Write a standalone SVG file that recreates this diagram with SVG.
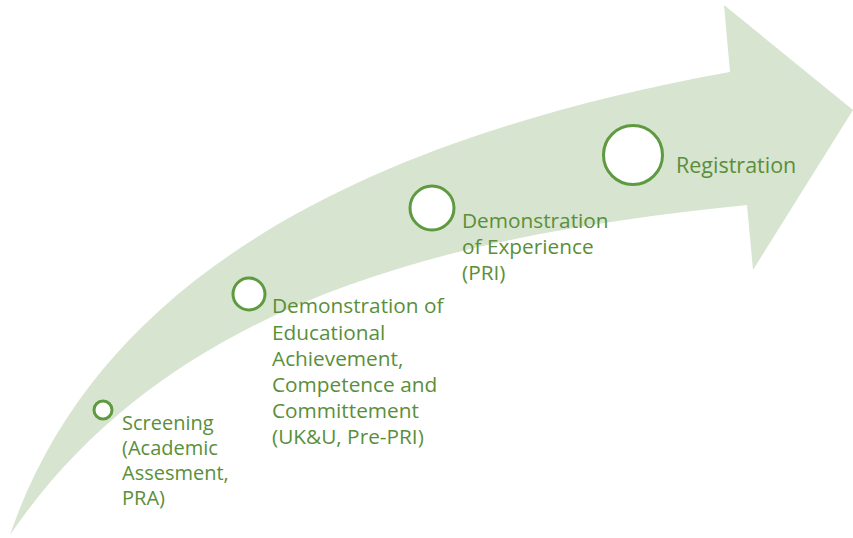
<svg xmlns="http://www.w3.org/2000/svg" width="853" height="538" viewBox="0 0 853 538">
<style>
.band{fill:#d7e4cf;stroke:none}
.dot{fill:#ffffff;stroke:#5e9a3f;stroke-width:3}
.lbl{fill:#5a8f3a;font-family:"Open Sans","Noto Sans",sans-serif;font-size:20.8px}
.lbl2{fill:#5a8f3a;font-family:"Open Sans","Noto Sans",sans-serif;font-size:21.5px}
.lbl3{fill:#5a8f3a;font-family:"Open Sans","Noto Sans",sans-serif;font-size:20px}
</style>
<g id="arrow">
<path class="band" d="M10,535 C90,300 325,145 730,72 L724,5 L853,110 L753,270 L747,205 C450,235 170,300 10,535 Z"/>
</g>
<g id="connectors"></g>
<g id="step1">
<circle class="dot" cx="103" cy="410" r="9"/>
<text class="lbl3" x="122" y="430">Screening</text>
<text class="lbl3" x="122" y="455">(Academic</text>
<text class="lbl3" x="122" y="480">Assesment,</text>
<text class="lbl3" x="122" y="505">PRA)</text>
</g>
<g id="step2">
<circle class="dot" cx="249" cy="294" r="16"/>
<text class="lbl" x="272" y="313">Demonstration of</text>
<text class="lbl" x="272" y="340">Educational</text>
<text class="lbl" x="272" y="366">Achievement,</text>
<text class="lbl" x="272" y="392">Competence and</text>
<text class="lbl" x="272" y="418">Committement</text>
<text class="lbl" x="272" y="444">(UK&amp;U, Pre-PRI)</text>
</g>
<g id="step3">
<circle class="dot" cx="432" cy="208" r="22"/>
<text class="lbl" x="462" y="228">Demonstration</text>
<text class="lbl" x="462" y="254">of Experience</text>
<text class="lbl" x="462" y="280">(PRI)</text>
</g>
<g id="step4">
<circle class="dot" cx="633" cy="155" r="29.5"/>
<text class="lbl2" x="676" y="173">Registration</text>
</g>
</svg>
